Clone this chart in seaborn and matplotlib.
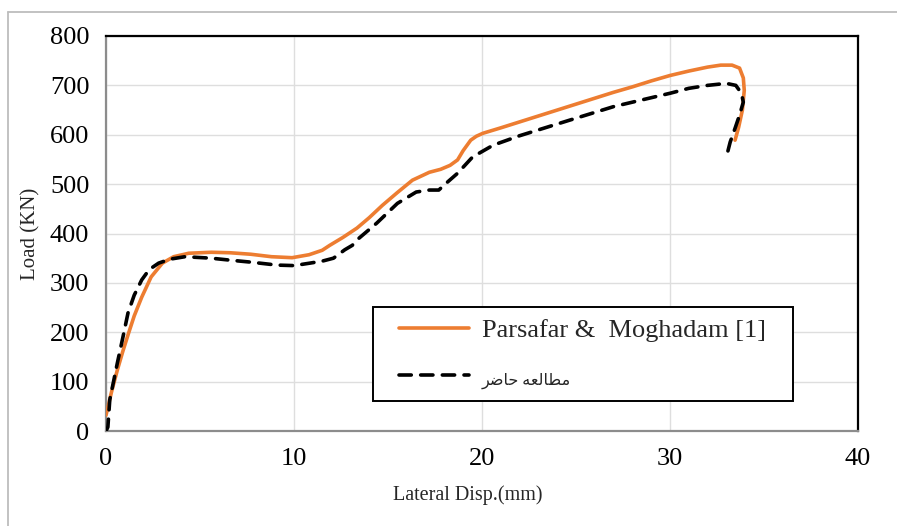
import matplotlib
matplotlib.use("Agg")
import matplotlib.pyplot as plt
import pandas as pd
import seaborn as sns
from matplotlib.lines import Line2D
from matplotlib.legend_handler import HandlerLine2D

# ---------------- data ----------------
ref_x = [0, 0.3, 0.6, 0.9, 1.2, 1.5, 1.9, 2.4, 3.0, 3.6, 4.4, 5.6, 6.6, 7.7, 8.8,
         9.9, 10.8, 11.5, 11.9, 12.6, 13.35, 14.0, 14.7, 15.5, 16.3, 17.2, 17.8,
         18.3, 18.7, 19.0, 19.4, 19.7, 20.05, 21, 22, 23, 24, 25, 26, 27, 28, 29,
         30, 31, 32, 32.7, 33.3, 33.7, 33.9, 33.95, 33.85, 33.65, 33.46]
ref_y = [32, 80, 123, 162, 198, 233, 271, 312, 340, 353, 360, 362, 361, 358, 353,
         351, 357, 366, 376, 392, 411, 432, 457, 483, 508, 524, 530,
         538, 549, 568, 589, 597, 603, 614, 626, 638, 650, 662, 674, 686, 697, 709,
         720, 729, 737, 741, 741, 735, 715, 690, 650, 615, 589]

cur_x = [0, 0.1, 0.2, 0.6, 0.9, 1.17, 1.5, 1.9, 2.3, 2.8, 3.4, 4.2, 5.6, 6.6, 7.7,
         9.1, 10.0, 10.85, 11.5, 12.1, 12.7, 13.1, 13.35, 14.4, 15.5, 16.5, 17.2,
         17.7, 18.1, 18.7, 19.5, 20.6, 22, 24.7, 27, 30, 31, 32, 33.0, 33.5, 33.8,
         33.9, 33.7, 33.46, 33.2, 33.0]
cur_y = [0, 8, 63, 137, 190, 239, 275, 306, 327, 340, 348, 353, 350, 346, 342,
         336, 335, 340, 344, 350, 367, 376, 387, 421, 461, 484, 488,
         488, 502, 522, 555, 579, 598, 630, 657, 684, 694, 700, 704, 700, 684,
         666, 640, 613, 585, 555]

series_labels = ["Parsafar &  Moghadam [1]", "مطالعه حاضر"]
x_ticks = [0, 10, 20, 30, 40]
y_ticks = [0, 100, 200, 300, 400, 500, 600, 700, 800]
x_label = "Lateral Disp.(mm)"
y_label = "Load (KN)"


# ---------------- minimal Arabic shaping (matplotlib has no RTL shaping) ----------------
_FORMS = {  # isolated, final, initial, medial
    "م": ("\uFEE1", "\uFEE2", "\uFEE3", "\uFEE4"),
    "ط": ("\uFEC1", "\uFEC2", "\uFEC3", "\uFEC4"),
    "ا": ("\uFE8D", "\uFE8E", None, None),
    "ل": ("\uFEDD", "\uFEDE", "\uFEDF", "\uFEE0"),
    "ع": ("\uFEC9", "\uFECA", "\uFECB", "\uFECC"),
    "ه": ("\uFEE9", "\uFEEA", "\uFEEB", "\uFEEC"),
    "ح": ("\uFEA1", "\uFEA2", "\uFEA3", "\uFEA4"),
    "ض": ("\uFEBD", "\uFEBE", "\uFEBF", "\uFEC0"),
    "ر": ("\uFEAD", "\uFEAE", None, None),
}


def _dual(c):
    return c in _FORMS and _FORMS[c][2] is not None


def shape_arabic(s):
    out = []
    for i, c in enumerate(s):
        if c not in _FORMS:
            out.append(c)
            continue
        prev = s[i - 1] if i > 0 else None
        nxt = s[i + 1] if i + 1 < len(s) else None
        jp = prev is not None and _dual(prev)
        jn = _dual(c) and nxt is not None and nxt in _FORMS
        f = _FORMS[c]
        if jp and jn:
            out.append(f[3])
        elif jp:
            out.append(f[1])
        elif jn:
            out.append(f[2])
        else:
            out.append(f[0])
    return "".join(out)[::-1]


class ShiftedLineHandler(HandlerLine2D):
    """Legend line drawn only on the right part of the handle box (extra left inset)."""

    def __init__(self, shift, **kw):
        super().__init__(**kw)
        self.shift = shift

    def create_artists(self, legend, orig_handle, xdescent, ydescent, width, height,
                       fontsize, trans):
        return super().create_artists(legend, orig_handle, xdescent - self.shift,
                                      ydescent, width - self.shift, height,
                                      fontsize, trans)


# ---------------- plot ----------------
sns.set_theme(style="white")
plt.rcParams["font.family"] = ["Liberation Serif", "DejaVu Sans"]

W, H = 897, 526
fig = plt.figure(figsize=(W / 100, H / 100), dpi=100)
ax = fig.add_axes([106 / W, 1 - 431 / H, (858 - 106) / W, (431 - 36) / H])

df_ref = pd.DataFrame({"x": ref_x, "y": ref_y})
df_cur = pd.DataFrame({"x": cur_x, "y": cur_y})

sns.lineplot(data=df_ref, x="x", y="y", sort=False, estimator=None, ax=ax,
             color="#ED7D31", lw=2.6, label=series_labels[0],
             solid_capstyle="round", solid_joinstyle="round", zorder=3)
sns.lineplot(data=df_cur, x="x", y="y", sort=False, estimator=None, ax=ax,
             color="black", lw=2.6, label=shape_arabic(series_labels[1]),
             linestyle=(0, (3.4, 2.6)), dash_capstyle="round", zorder=4)

ax.set_xlim(0, 40)
ax.set_ylim(0, 800)
ax.set_xticks(x_ticks)
ax.set_yticks(y_ticks)
ax.set_xticklabels([str(t) for t in x_ticks])
ax.set_yticklabels([str(t) for t in y_ticks])
ax.tick_params(axis="both", labelsize=19, labelcolor="black", direction="out",
               length=7, width=1, pad=5, color="#8c8c8c")
ax.grid(True, color="#dedede", lw=1)
ax.set_axisbelow(True)

for side in ("left", "bottom"):
    ax.spines[side].set_color("#8c8c8c")
    ax.spines[side].set_linewidth(1.6)
for side in ("top", "right"):
    ax.spines[side].set_color("black")
    ax.spines[side].set_linewidth(1.6)
    ax.spines[side].set_visible(True)

ax.set_xlabel(x_label, fontsize=14.5)
ax.set_ylabel(y_label, fontsize=15)
ax.xaxis.set_label_coords((468 - 106) / 752, (431 - 485) / 395)
ax.yaxis.set_label_coords((40 - 106) / 752, 0.5)

fs = 19
shift_pt = 10.0
handles, labels = ax.get_legend_handles_labels()
leg = ax.legend(handles, labels, loc="upper left",
                bbox_to_anchor=((373 - 106) / 752, 0.0, (793 - 373) / 752, (431 - 307) / 395),
                mode="expand", frameon=True, fancybox=False, fontsize=fs,
                handlelength=(shift_pt + 50.4) / fs, handletextpad=0.5, borderpad=0.45,
                labelspacing=0.9, borderaxespad=0.0,
                handler_map={h: ShiftedLineHandler(shift_pt) for h in handles})
leg.get_frame().set_edgecolor("black")
leg.get_frame().set_linewidth(1.4)
leg.get_frame().set_alpha(1)
leg.get_texts()[1].set_fontsize(11.5)

# outer light border of the original figure
fig.add_artist(Line2D([8 / W, 1], [1 - 12 / H, 1 - 12 / H], transform=fig.transFigure,
                      color="#bdbdbd", lw=1.3))
fig.add_artist(Line2D([8 / W, 8 / W], [0, 1 - 12 / H], transform=fig.transFigure,
                      color="#bdbdbd", lw=1.3))

fig.savefig("out.png", dpi=100)
